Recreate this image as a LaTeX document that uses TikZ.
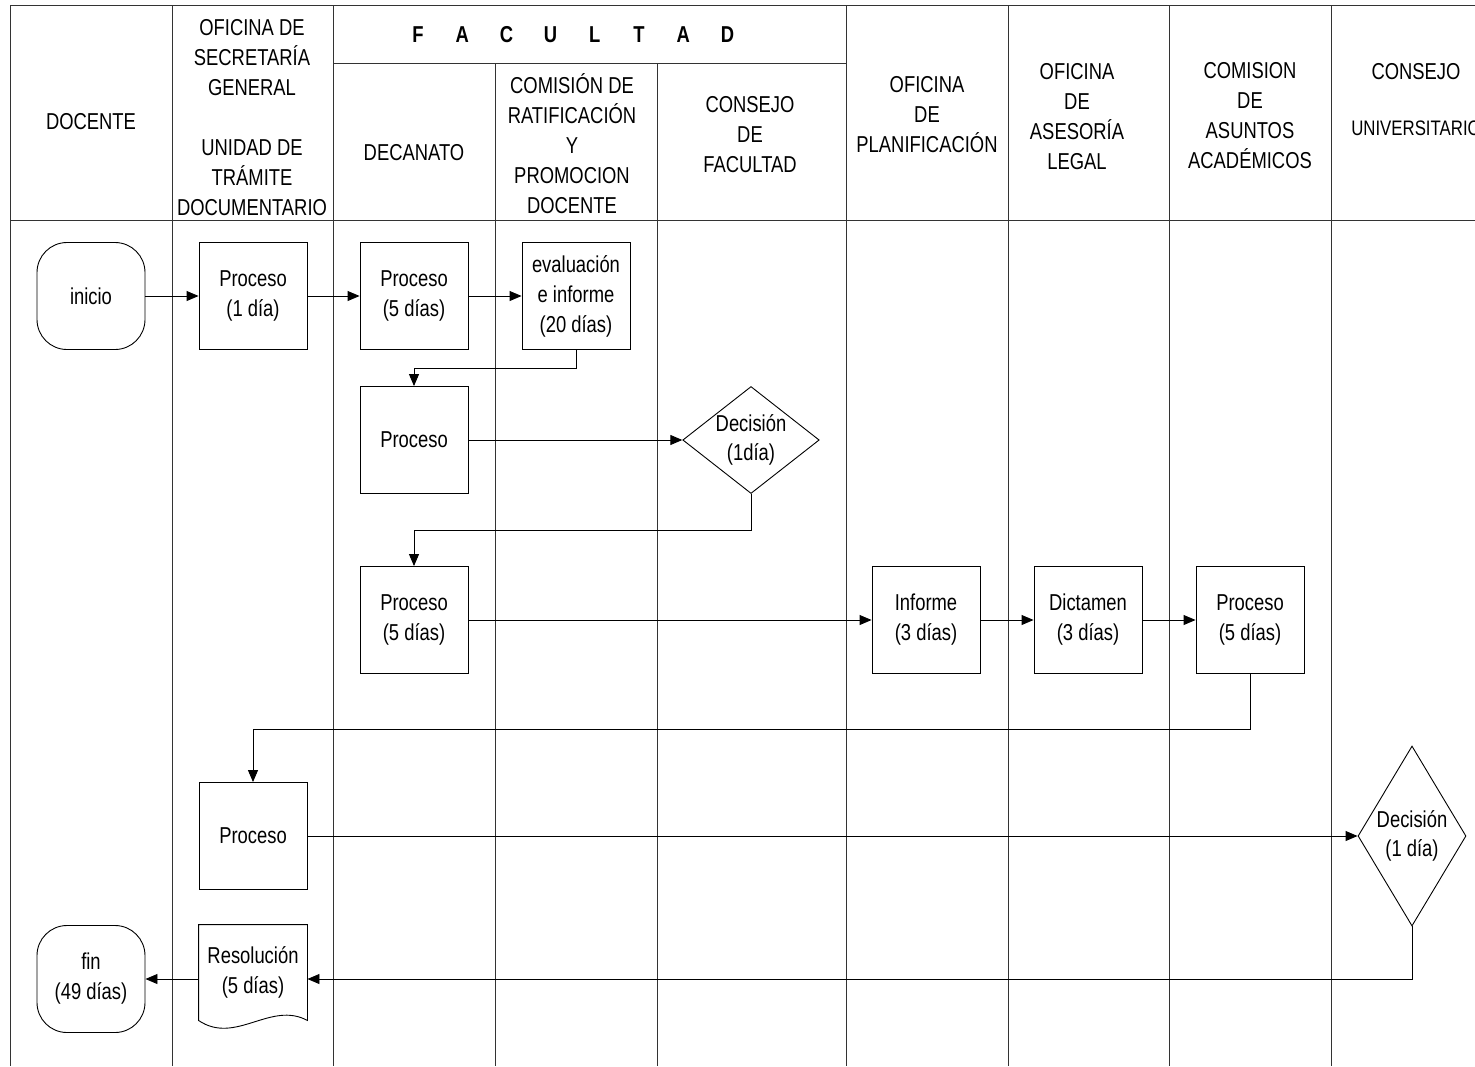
\documentclass[tikz,border=0pt]{standalone}
\usepackage{fontspec}
\setmainfont{Liberation Sans}[FakeStretch=0.8]
\usetikzlibrary{arrows.meta,shapes.geometric}
\begin{document}
\begin{tikzpicture}
[x=1pt,y=-1pt,
  lanedecorate/.style={black!80,line width=1pt},
  headdecorate/.style={align=center,font=\fontsize{23}{30}\selectfont},
  procdecorate/.style={shape=rectangle,draw,line width=0.9pt,minimum width=108pt,
    minimum height=107pt,inner sep=1pt,align=center,font=\fontsize{23}{30}\selectfont},
  termdecorate/.style={procdecorate,rounded corners=30pt},
  decidecorate/.style={shape=diamond,draw,line width=0.9pt,inner sep=0pt,
    align=center,font=\fontsize{23}{29}\selectfont},
  linedecorate/.style={-{Triangle[length=12pt,width=10pt]},line width=0.9pt}]
\useasboundingbox (0,0) rectangle (1475,1066);
%% swimlanes
\foreach \x/\ytop in {10/5, 172/5, 333/5, 495/63, 657/63, 846/5, 1008/5, 1169/5, 1331/5}
{
  \draw[lanedecorate] (\x,\ytop) -- (\x,1066);
}
\draw[lanedecorate] (10,5) -- (1475,5);
\draw[lanedecorate] (333,63) -- (846,63);
\draw[lanedecorate] (10,220) -- (1475,220);
%% headers
\foreach \nodename/\x/\y/\words in {hdoc/91/122/DOCENTE,
  hsec/252/118/{OFICINA DE\\SECRETARÍA\\GENERAL\\[30pt]UNIDAD DE\\TRÁMITE\\DOCUMENTARIO},
  hdec/414/153/DECANATO,
  hcom/572/144/{COMISIÓN DE\\RATIFICACIÓN\\Y\\PROMOCION\\DOCENTE},
  hcon/750/135/{CONSEJO\\DE\\FACULTAD},
  hpla/927/115/{OFICINA\\DE\\PLANIFICACIÓN},
  hase/1077/117/{OFICINA\\DE\\ASESORÍA\\LEGAL},
  hcaa/1250/116/{COMISION\\DE\\ASUNTOS\\ACADÉMICOS},
  hcu/1416/72/CONSEJO}
{
  \node[headdecorate] (\nodename) at (\x,\y) {\words};
}
\node[headdecorate,font=\fontsize{21}{26}\selectfont] (hcuu) at (1416,128) {UNIVERSITARIO};
\foreach \letra [count=\i from 0] in {F,A,C,U,L,T,A,D}
{
  \node[headdecorate,font=\fontsize{23}{28}\selectfont\bfseries] (fac\i) at (418+44.2*\i,35) {\letra};
}
%% process boxes
\foreach \nodename/\x/\y/\words in {p1/253/296/{Proceso\\(1 día)},
  p2/414/296/{Proceso\\(5 días)}, eva/576/296/{evaluación\\e informe\\(20 días)},
  p3/414/440/Proceso, p4/414/620/{Proceso\\(5 días)}, inf/926/620/{Informe\\(3 días)},
  dic/1088/620/{Dictamen\\(3 días)}, p5/1250/620/{Proceso\\(5 días)}, p6/253/836/Proceso}
{
  \node[procdecorate] (\nodename) at (\x,\y) {\words};
}
\node[termdecorate] (ini) at (91,296) {inicio};
\node[termdecorate] (fin) at (91,979) {fin\\(49 días)};
\node[decidecorate,aspect=1.3,minimum width=135pt,minimum height=107pt] (d1) at (751,440) {Decisión\\(1día)};
\node[decidecorate,aspect=0.6,minimum width=108pt,minimum height=180pt] (d2) at (1412,836) {Decisión\\(1 día)};
\node[procdecorate,draw=none,minimum height=95pt] (res) at (253,972.5) {Resolución\\(5 días)};
\draw[line width=0.9pt] (res.north west) -- (res.north east) -- (res.south east)
  .. controls +(-37,-20) and +(37,25) .. (res.south west) -- cycle;
%% connectors
\path
\foreach \startnode/\endnode in {ini/p1, p1/p2, p2/eva, p3/d1, p4/inf, inf/dic, dic/p5, p6/d2} {
  (\startnode) edge[linedecorate] (\endnode)
};
\draw[linedecorate] (eva.south) -- ++(0,18) -| (p3.north);
\draw[linedecorate] (d1.south) -- ++(0,36) -| (p4.north);
\draw[linedecorate] (p5.south) -- ++(0,55) -| (p6.north);
\draw[linedecorate] (d2.south) |- (res.east |- fin.east);
\draw[linedecorate] (res.west |- fin.east) -- (fin.east);
\end{tikzpicture}
\end{document}
